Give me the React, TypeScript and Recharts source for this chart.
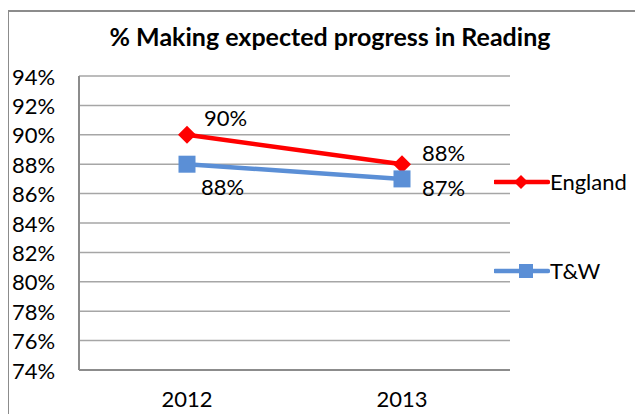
import React from "react";
import {
  LineChart,
  Line,
  XAxis,
  YAxis,
  CartesianGrid,
  LabelList,
} from "recharts";

const years = ["2012", "2013"];
const england = [90, 88];
const tw = [88, 87];
const yTicks = [74, 76, 78, 80, 82, 84, 86, 88, 90, 92, 94];

const data = years.map((year, i) => ({ year, england: england[i], tw: tw[i] }));

const FONT = "Lato, 'Open Sans', sans-serif";
const RED = "#FF0000";
const BLUE = "#5B8FD6";

// label offsets from each point, per series and index
const englandOffsets = [
  { dx: 17, dy: -17 },
  { dx: 20, dy: -12 },
];
const twOffsets = [
  { dx: 14, dy: 22 },
  { dx: 20, dy: 9 },
];

const makeLabel = (offsets: { dx: number; dy: number }[]) => (props: any) => {
  const { x, y, value, index } = props;
  const o = offsets[index] || { dx: 0, dy: 0 };
  return (
    <text
      x={x + o.dx}
      y={y + o.dy}
      dominantBaseline="central"
      textAnchor="start"
      fill="#000"
      fontSize={22}
      fontFamily={FONT}
    >
      {value}%
    </text>
  );
};

const Diamond = (props: any) => {
  const { cx, cy } = props;
  if (cx == null || cy == null) return null;
  const r = 9;
  return (
    <path
      d={`M${cx},${cy - r} L${cx + r},${cy} L${cx},${cy + r} L${cx - r},${cy} Z`}
      fill={RED}
    />
  );
};

const Square = (props: any) => {
  const { cx, cy } = props;
  if (cx == null || cy == null) return null;
  const s = 17;
  return <rect x={cx - s / 2} y={cy - s / 2} width={s} height={s} fill={BLUE} />;
};

const YTick = (props: any) => {
  const { y, payload } = props;
  return (
    <text
      x={4}
      y={y}
      dominantBaseline="central"
      textAnchor="start"
      fill="#000"
      fontSize={22}
      fontFamily={FONT}
    >
      {payload.value}%
    </text>
  );
};

const XTick = (props: any) => {
  const { x, y, payload } = props;
  return (
    <text
      x={x}
      y={y + 20}
      dominantBaseline="central"
      textAnchor="middle"
      fill="#000"
      fontSize={22}
      fontFamily={FONT}
    >
      {payload.value}
    </text>
  );
};

const LegendBox = () => (
  <div
    style={{
      position: "absolute",
      left: 486,
      top: 160,
      width: 150,
      height: 110,
      fontFamily: FONT,
      fontSize: 22,
    }}
  >
    <div style={{ position: "absolute", left: 0, top: 0, display: "flex", alignItems: "center" }}>
      <svg width={56} height={20}>
        <line x1={1} y1={10} x2={54} y2={10} stroke={RED} strokeWidth={4.5} strokeLinecap="round" />
        <path d="M27,3 L34,10 L27,17 L20,10 Z" fill={RED} />
      </svg>
      <span>England</span>
    </div>
    <div style={{ position: "absolute", left: 0, top: 89, display: "flex", alignItems: "center" }}>
      <svg width={56} height={20}>
        <line x1={1} y1={10} x2={54} y2={10} stroke={BLUE} strokeWidth={4.5} strokeLinecap="round" />
        <rect x={25} y={3} width={14} height={14} fill={BLUE} />
      </svg>
      <span>T&amp;W</span>
    </div>
  </div>
);

const App: React.FC = () => {
  return (
    <div style={{ position: "relative", width: 635, height: 406, overflow: "hidden" }}>
      <div
        style={{
          position: "absolute",
          left: -1,
          top: 2,
          width: 700,
          height: 500,
          border: "2px solid #8C8C8C",
          boxSizing: "border-box",
        }}
      />
      <div
        style={{
          position: "absolute",
          left: 0,
          top: 13,
          width: 644,
          textAlign: "center",
          fontFamily: FONT,
          fontWeight: "bold",
          fontSize: 25,
          color: "#000",
        }}
      >
        % Making expected progress in Reading
      </div>
      <LineChart
        width={635}
        height={406}
        data={data}
        margin={{ top: 68, right: 133, left: 0, bottom: 8 }}
        style={{ position: "absolute", left: 0, top: 0 }}
      >
        <CartesianGrid vertical={false} stroke="#A6A6A6" strokeWidth={1.5} />
        <XAxis
          dataKey="year"
          height={36}
          padding={{ left: 108, right: 108 }}
          tick={<XTick />}
          tickLine={false}
          axisLine={{ stroke: "#8C8C8C", strokeWidth: 2 }}
        />
        <YAxis
          width={71}
          domain={[74, 94]}
          ticks={yTicks}
          interval={0}
          tick={<YTick />}
          tickLine={false}
          axisLine={{ stroke: "#8C8C8C", strokeWidth: 2 }}
        />
        <Line
          dataKey="england"
          name="England"
          stroke={RED}
          strokeWidth={4.5}
          dot={<Diamond />}
          activeDot={false}
          isAnimationActive={false}
        >
          <LabelList dataKey="england" content={makeLabel(englandOffsets)} />
        </Line>
        <Line
          dataKey="tw"
          name="T&W"
          stroke={BLUE}
          strokeWidth={4.5}
          dot={<Square />}
          activeDot={false}
          isAnimationActive={false}
        >
          <LabelList dataKey="tw" content={makeLabel(twOffsets)} />
        </Line>
      </LineChart>
      <LegendBox />
    </div>
  );
};

export default App;
